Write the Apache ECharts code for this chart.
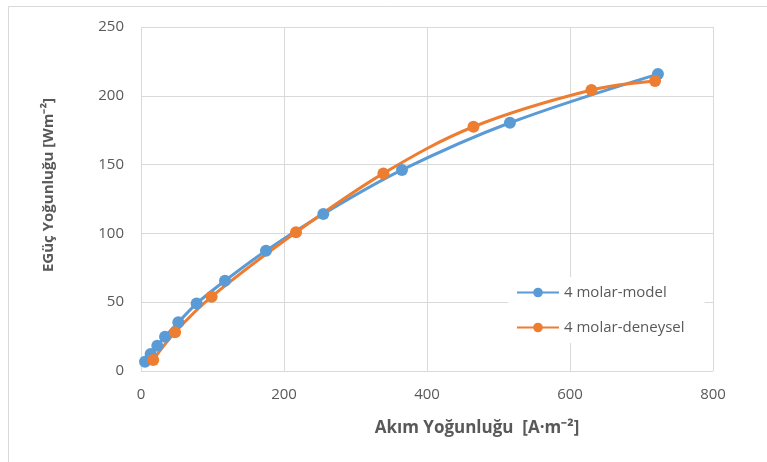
<!DOCTYPE html>
<html>
<head>
<meta charset="utf-8">
<script src="https://cdn.jsdelivr.net/npm/echarts@6/dist/echarts.min.js"></script>
<style>
html,body{margin:0;padding:0;background:#fff;}
#chart{width:767px;height:462px;}
</style>
</head>
<body>
<div id="chart"></div>
<script>
var modelX = [5.6, 13.5, 22.8, 33.6, 52.2, 77.8, 117.5, 174.8, 255, 365, 516, 723];
var modelY = [6.8, 12.4, 18.4, 24.9, 35.4, 49.0, 65.6, 87.4, 114.1, 146.1, 180.4, 215.8];
var expX = [17.1, 47.6, 98.8, 216.8, 339, 465, 630, 719];
var expY = [8.0, 28.1, 54.0, 100.8, 143.6, 177.5, 204.2, 210.8];
var seriesNames = ['4 molar-model', '4 molar-deneysel'];
var xTitle = 'Akım Yoğunluğu  [A·m⁻²]';
var yTitle = 'EGüç Yoğunluğu [Wm⁻²]';

function pairs(xs, ys) { return xs.map(function (x, i) { return [x, ys[i]]; }); }

var font = 'Open Sans';
var chart = echarts.init(document.getElementById('chart'));
chart.setOption({
  animation: false,
  backgroundColor: '#fff',
  graphic: [{
    type: 'rect', left: 8, top: 6, silent: true, z: -10,
    shape: { width: 800, height: 520 },
    style: { fill: '#fff', stroke: '#d9d9d9', lineWidth: 1 }
  }],
  grid: { left: 141, right: 54, top: 27, bottom: 91, containLabel: false },
  xAxis: {
    type: 'value', min: 0, max: 800, interval: 200,
    name: xTitle, nameLocation: 'middle', nameGap: 49,
    nameTextStyle: { fontFamily: font, fontSize: 17, fontWeight: 'bold', color: '#595959', padding: [0, 0, 0, 100] },
    axisLine: { show: false }, axisTick: { show: false },
    axisLabel: { fontFamily: font, fontSize: 15, color: '#595959', margin: 16 },
    splitLine: { show: true, lineStyle: { color: '#d9d9d9', width: 1 } }
  },
  yAxis: {
    type: 'value', min: 0, max: 250, interval: 50,
    name: yTitle, nameLocation: 'middle', nameGap: 85,
    nameTextStyle: { fontFamily: font, fontSize: 15, fontWeight: 'bold', color: '#595959', padding: [0, 0, 0, 28] },
    axisLine: { show: false }, axisTick: { show: false },
    axisLabel: { fontFamily: font, fontSize: 15, color: '#595959', margin: 17 },
    splitLine: { show: true, lineStyle: { color: '#d9d9d9', width: 1 } }
  },
  legend: {
    orient: 'vertical', left: 508, top: 277,
    backgroundColor: '#fff', padding: [8, 20, 8, 8],
    itemWidth: 42, itemHeight: 12, itemGap: 20,
    textStyle: { fontFamily: font, fontSize: 15, color: '#595959' },
    data: seriesNames
  },
  series: [{
    name: seriesNames[0], type: 'line', smooth: 0.35,
    data: pairs(modelX, modelY),
    symbol: 'circle', symbolSize: 12,
    lineStyle: { color: '#5B9BD5', width: 3 },
    itemStyle: { color: '#5B9BD5' }
  }, {
    name: seriesNames[1], type: 'line', smooth: 0.35,
    data: pairs(expX, expY),
    symbol: 'circle', symbolSize: 12,
    lineStyle: { color: '#ED7D31', width: 3 },
    itemStyle: { color: '#ED7D31' }
  }]
});
</script>
</body>
</html>
